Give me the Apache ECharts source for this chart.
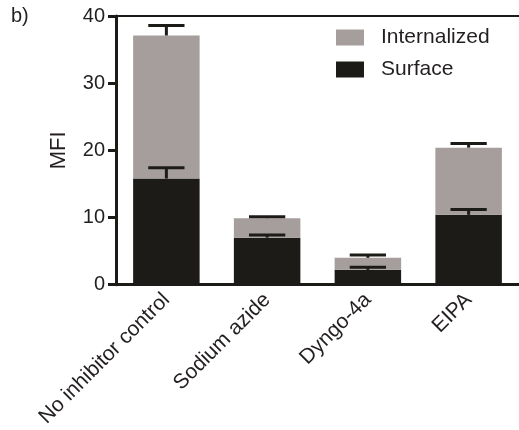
<!DOCTYPE html>
<html style="height: 100%">
<head>
    <meta charset="utf-8">
    <title>MFI</title>
    <script src="https://cdn.jsdelivr.net/npm/echarts@6/dist/echarts.min.js"></script>
</head>
<body style="height: 100%; margin: 0; background: #fff">
    <div id="container" style="width: 519px; height: 430px"></div>
    <script>
        // categories and values
        var categories = ['No inhibitor control', 'Sodium azide', 'Dyngo-4a', 'EIPA'];
        var surface = [15.8, 7.0, 2.2, 10.4];
        var internalized = [21.3, 2.9, 1.8, 10.0];
        var surfaceErr = [1.6, 0.4, 0.4, 0.8];     // upper error of surface
        var totalErr = [1.5, 0.2, 0.4, 0.6];       // upper error of surface + internalized
        var yTicks = [0, 10, 20, 30, 40];

        var FONT = 'Arial, "Liberation Sans", sans-serif';
        var TEXT = '#231f20';
        var GREY = '#a59e9d';
        var BLACK = '#1c1b18';

        // error bar data: [category, bar top, top of whisker]
        var errData = [];
        categories.forEach(function (c, i) {
            errData.push([i, surface[i], surface[i] + surfaceErr[i]]);
            var tot = surface[i] + internalized[i];
            errData.push([i, tot, tot + totalErr[i]]);
        });

        var myChart = echarts.init(document.getElementById('container'), null, { renderer: 'canvas' });

        var option = {
            animation: false,
            textStyle: { fontFamily: FONT },
            graphic: [{
                type: 'text', left: 11, top: 6,
                style: { text: 'b)', font: '20px ' + FONT, fill: TEXT }
            }],
            legend: {
                data: ['Internalized', 'Surface'],
                orient: 'vertical',
                left: 331, top: 22,
                icon: 'rect',
                itemWidth: 28, itemHeight: 16, itemGap: 11,
                textStyle: { fontSize: 21, lineHeight: 21, color: TEXT, padding: [0, 0, 0, 12] }
            },
            grid: { left: 116, right: 0, top: 16, bottom: 144 },
            xAxis: [{
                type: 'category',
                data: categories,
                axisLine: { lineStyle: { color: BLACK, width: 3 } },
                axisTick: { alignWithLabel: true, length: 8, lineStyle: { color: BLACK, width: 3 } },
                axisLabel: { rotate: 45, fontSize: 21, color: TEXT, margin: 12, interval: 0 }
            }, {
                type: 'category',
                data: categories,
                position: 'top',
                axisLine: { lineStyle: { color: BLACK, width: 2 } },
                axisTick: { show: false },
                axisLabel: { show: false }
            }],
            yAxis: {
                type: 'value',
                name: 'MFI',
                nameLocation: 'middle',
                nameRotate: 90,
                nameGap: 46,
                nameTextStyle: { fontSize: 22, color: TEXT },
                min: yTicks[0], max: yTicks[yTicks.length - 1], interval: 10,
                splitLine: { show: false },
                axisLine: { show: true, lineStyle: { color: BLACK, width: 3 } },
                axisTick: { show: true, length: 8, lineStyle: { color: BLACK, width: 3 } },
                axisLabel: { fontSize: 20, color: TEXT, margin: 11 }
            },
            series: [{
                name: 'Surface',
                type: 'bar',
                stack: 'mfi',
                barWidth: '66%',
                itemStyle: { color: BLACK },
                data: surface
            }, {
                name: 'Internalized',
                type: 'bar',
                stack: 'mfi',
                itemStyle: { color: GREY },
                data: internalized
            }, {
                type: 'custom',
                z: 5,
                encode: { x: 0, y: [1, 2] },
                data: errData,
                renderItem: function (params, api) {
                    var low = api.coord([api.value(0), api.value(1)]);
                    var high = api.coord([api.value(0), api.value(2)]);
                    var half = api.size([1, 0])[0] * 0.18;
                    var st = { stroke: BLACK, lineWidth: 3 };
                    return {
                        type: 'group',
                        children: [{
                            type: 'line',
                            shape: { x1: low[0], y1: low[1], x2: high[0], y2: high[1] },
                            style: st
                        }, {
                            type: 'line',
                            shape: { x1: high[0] - half, y1: high[1], x2: high[0] + half, y2: high[1] },
                            style: st
                        }]
                    };
                }
            }]
        };

        myChart.setOption(option);
    </script>
</body>
</html>
